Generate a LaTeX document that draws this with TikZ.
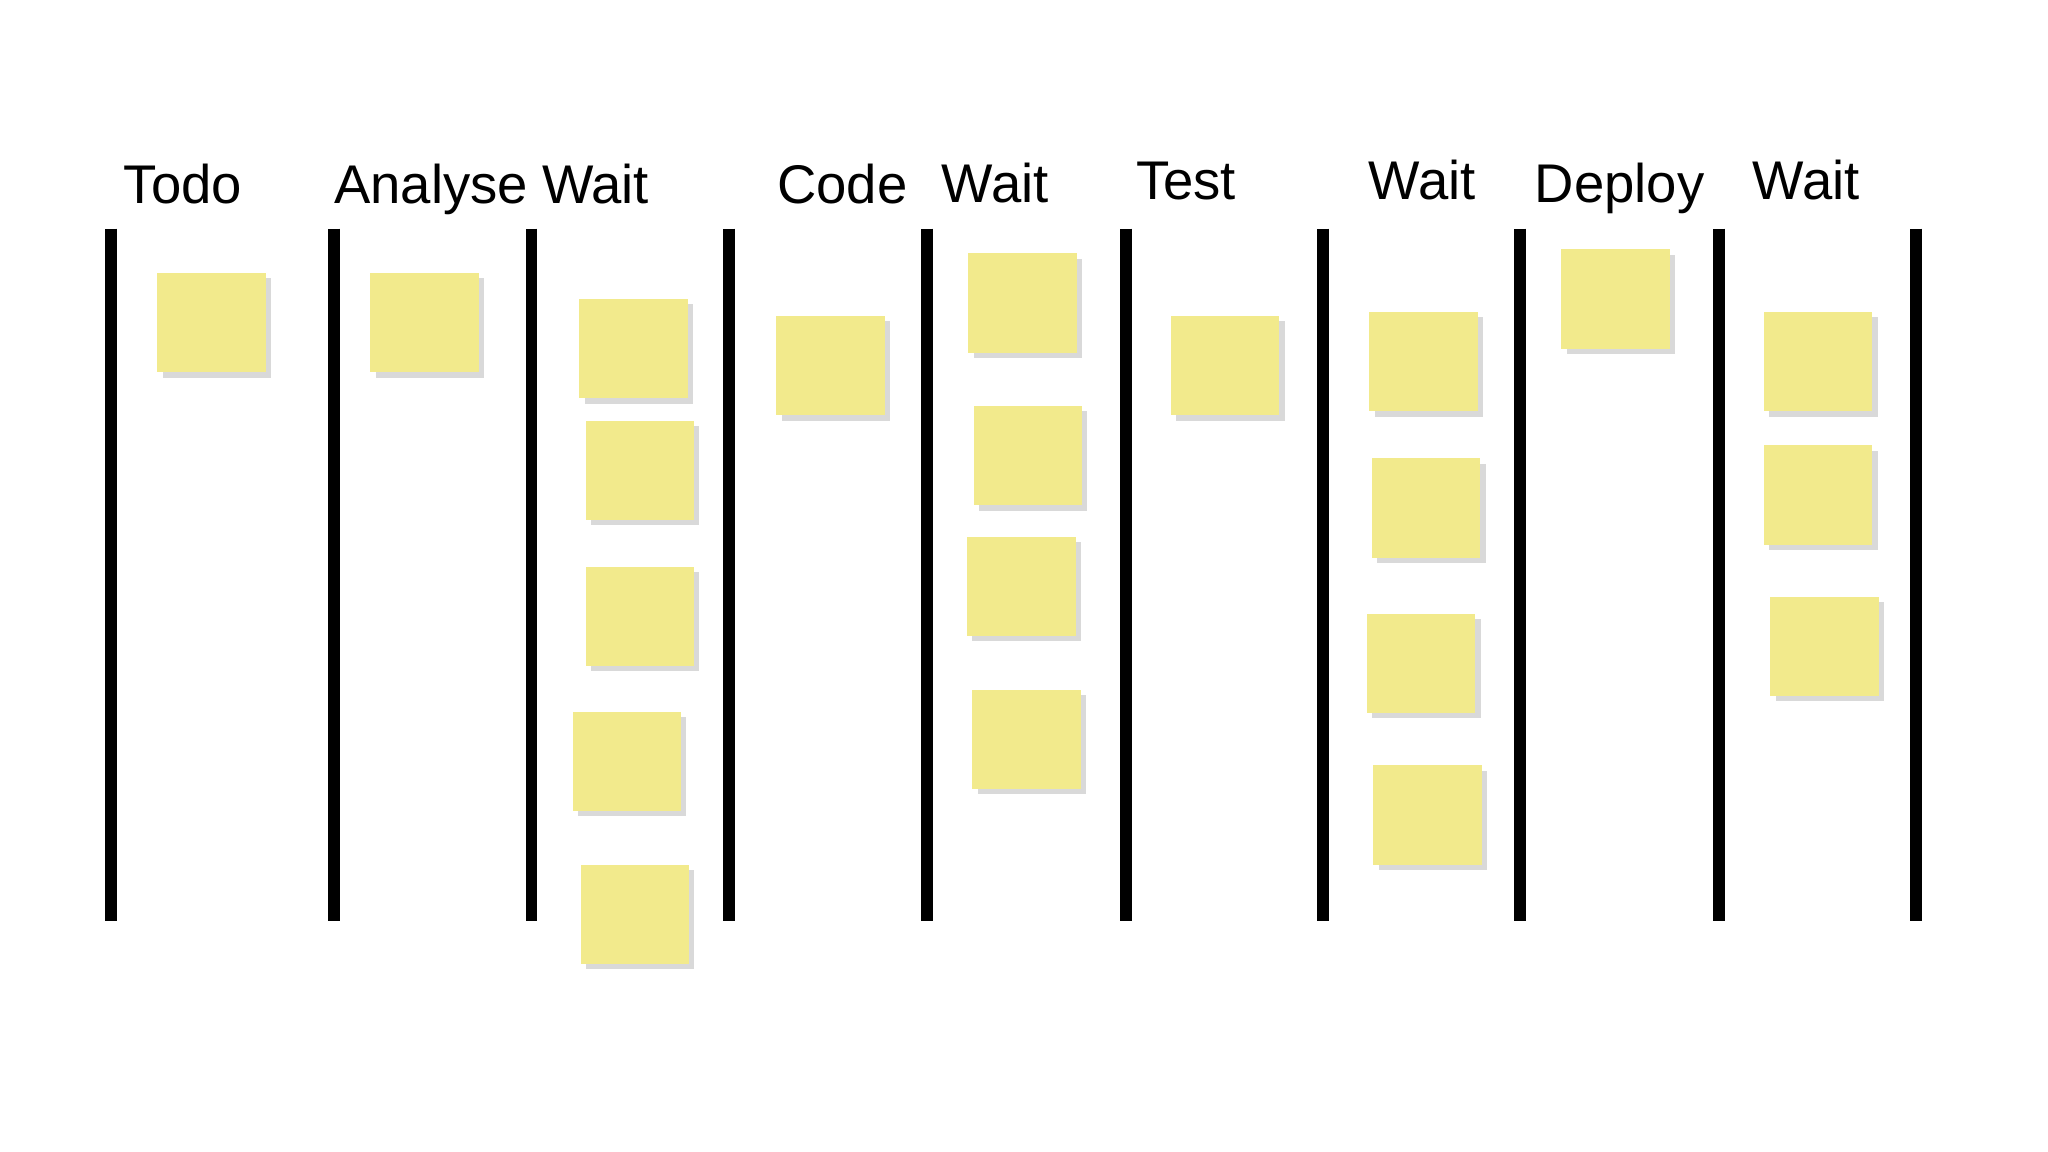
\documentclass[tikz,border=0pt]{standalone}
\usepackage{fontspec}
\setmainfont{Liberation Sans}
\usetikzlibrary{shadows}
\definecolor{sticky}{HTML}{F2EA8C}
\begin{document}
\begin{tikzpicture}[x=0.013061cm,y=-0.013061cm,
  lane/.style={line width=9*0.3716pt,black},
  note/.style={minimum width=83*0.013061cm,minimum height=76*0.013061cm,fill=sticky,inner sep=0pt,
    drop shadow={shadow xshift=1.5pt,shadow yshift=-1.5pt,opacity=0.3}},
  head/.style={font=\fontsize{15.5}{18}\selectfont,anchor=base}]
\useasboundingbox (0,0) rectangle (1568,882);
\foreach \x [count=\i] in {85,256,407,558,710,862,1013,1164,1316,1467}{
  \coordinate (t\i) at (\x,175); \coordinate (b\i) at (\x,705);
  \draw[lane] (t\i) -- (b\i);}
\node[head] (h1) at (140,156) {Todo};
\node[head] (h2) at (330,156) {Analyse};
\node[head] (h3) at (456,156) {Wait};
\node[head] (h4) at (645,156) {Code};
\node[head] (h5) at (762,155) {Wait};
\node[head] (h6) at (908,153) {Test};
\node[head] (h7) at (1089,153) {Wait};
\node[head] (h8) at (1240,155) {Deploy};
\node[head] (h9) at (1383,153) {Wait};
\foreach \p [count=\i] in {(162,247),(325,247),(485,267),(490,360),(490,472),(480,583),(486,700),
  (636,280),(783,232),(787,349),(782,449),(786,566),(938,280),
  (1090,277),(1092,389),(1088,508),(1093,624),(1237,229),(1392,277),(1392,379),(1397,495)}
  \node[note] (n\i) at \p {};
\end{tikzpicture}
\end{document}
